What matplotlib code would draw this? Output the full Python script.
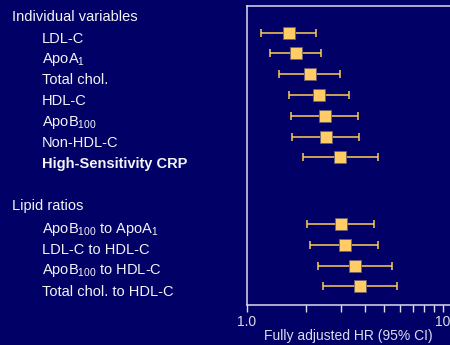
import numpy as np
import matplotlib.pyplot as plt
from matplotlib.ticker import FixedLocator, NullFormatter
from matplotlib.transforms import blended_transform_factory

plt.rcParams['font.family'] = ['Liberation Sans', 'DejaVu Sans']
plt.rcParams['mathtext.fontset'] = 'custom'
plt.rcParams['mathtext.rm'] = 'Liberation Sans'

bg = '#000066'
fg = '#DCDCEC'
gold = '#FFCC66'

# individual variables
ind_labels = ['LDL-C', 'ApoA$_1$', 'Total chol.', 'HDL-C', 'ApoB$_{100}$',
              'Non-HDL-C', 'High-Sensitivity CRP']
ind_hr = [1.64, 1.77, 2.10, 2.33, 2.51, 2.52, 2.99]
ind_lo = [1.18, 1.31, 1.46, 1.64, 1.68, 1.70, 1.92]
ind_hi = [2.26, 2.39, 2.99, 3.33, 3.70, 3.74, 4.68]

# lipid ratios
rat_labels = ['ApoB$_{100}$ to ApoA$_1$', 'LDL-C to HDL-C',
              'ApoB$_{100}$ to HDL-C', 'Total chol. to HDL-C']
rat_hr = [3.01, 3.17, 3.56, 3.79]
rat_lo = [2.02, 2.10, 2.31, 2.45]
rat_hi = [4.46, 4.68, 5.47, 5.85]

ind_y = np.arange(len(ind_labels))
rat_y = np.arange(len(rat_labels)) + 9.2

fig = plt.figure(figsize=(4.5, 3.45), dpi=100, facecolor=bg)
ax = fig.add_axes([247 / 450, 1 - 305 / 345, 1 - 247 / 450, (305 - 6) / 345])
ax.set_facecolor(bg)

for ys, hr, lo, hi in [(ind_y, ind_hr, ind_lo, ind_hi), (rat_y, rat_hr, rat_lo, rat_hi)]:
    hr = np.array(hr)
    err = [hr - np.array(lo), np.array(hi) - hr]
    ax.errorbar(hr, ys, xerr=err, fmt='none', ecolor='#FFCC55', elinewidth=1.1,
                capsize=2.9, capthick=1.1, zorder=2)
    ax.plot(hr, ys, 's', ms=8.6, mfc=gold, mec='#6E6070', mew=0.6, zorder=3)

ax.set_xscale('log')
ax.set_xlim(1.0, 10 ** (203 / 196))
ax.set_ylim(13.09, -1.28)
ax.set_yticks([])
ax.xaxis.set_major_locator(FixedLocator([1, 10]))
ax.xaxis.set_minor_locator(FixedLocator(range(2, 10)))
ax.xaxis.set_minor_formatter(NullFormatter())
ax.set_xticklabels(['1.0', '10'])
ax.tick_params(axis='x', which='both', direction='out', length=5, width=1,
               color=fg, labelcolor=fg, labelsize=10, pad=2)
ax.set_xlabel('Fully adjusted HR (95% CI)', color=fg, fontsize=10, labelpad=0)
for s in ['left', 'top', 'bottom']:
    ax.spines[s].set_color(fg)
    ax.spines[s].set_linewidth(1.1)
ax.spines['right'].set_visible(False)

# row labels: figure x, data y
tr = blended_transform_factory(fig.transFigure, ax.transData)
txt = '#F4F4F8'
ax.text(12 / 450, -0.74, 'Individual variables', transform=tr, color=txt,
        fontsize=10.5, va='center', ha='left', clip_on=False)
ax.text(12 / 450, 8.33, 'Lipid ratios', transform=tr, color=txt,
        fontsize=10.5, va='center', ha='left', clip_on=False)
for i, lab in enumerate(ind_labels):
    ax.text(42 / 450, ind_y[i] + 0.3, lab, transform=tr, color=txt, fontsize=10.5,
            va='center', ha='left', clip_on=False,
            fontweight='bold' if i == len(ind_labels) - 1 else 'normal')
for i, lab in enumerate(rat_labels):
    ax.text(42 / 450, rat_y[i] + 0.25, lab, transform=tr, color=txt, fontsize=10.5,
            va='center', ha='left', clip_on=False)

fig.savefig('out.png', dpi=100, facecolor=bg)
